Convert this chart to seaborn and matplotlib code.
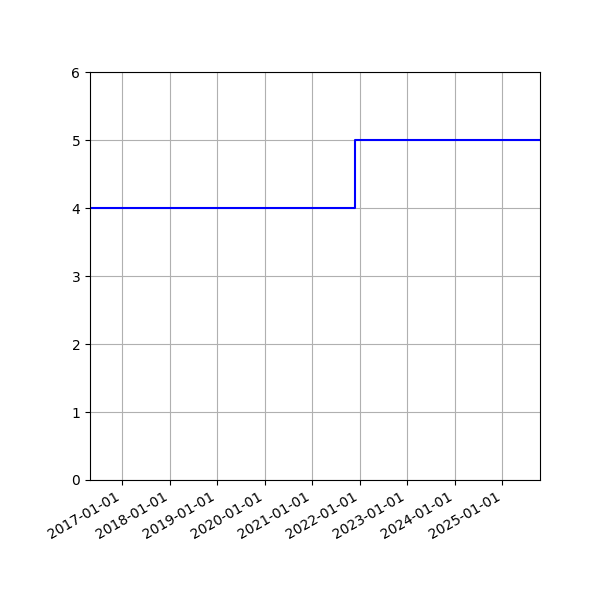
import matplotlib
matplotlib.use("Agg")
import matplotlib.pyplot as plt
import matplotlib.dates as mdates
import seaborn as sns
import pandas as pd

dates = ["2016-04-28", "2021-11-28", "2025-10-18"]
values = [4, 5, 5]

df = pd.DataFrame({"date": pd.to_datetime(dates), "value": values})

fig, ax = plt.subplots(figsize=(6, 6), dpi=100)
sns.lineplot(data=df, x="date", y="value", ax=ax, color="blue",
             drawstyle="steps-post", linewidth=1.5)
ax.set_xlim(df["date"].min(), df["date"].max())
ax.set_ylim(0, 6)
ax.xaxis.set_major_locator(mdates.YearLocator())
ax.xaxis.set_major_formatter(mdates.DateFormatter("%Y-%m-%d"))
ax.grid(True)
ax.set_xlabel("")
ax.set_ylabel("")
fig.autofmt_xdate()
fig.subplots_adjust(left=0.15, right=0.9, top=0.88, bottom=0.2)
fig.savefig("out.png", dpi=100)
